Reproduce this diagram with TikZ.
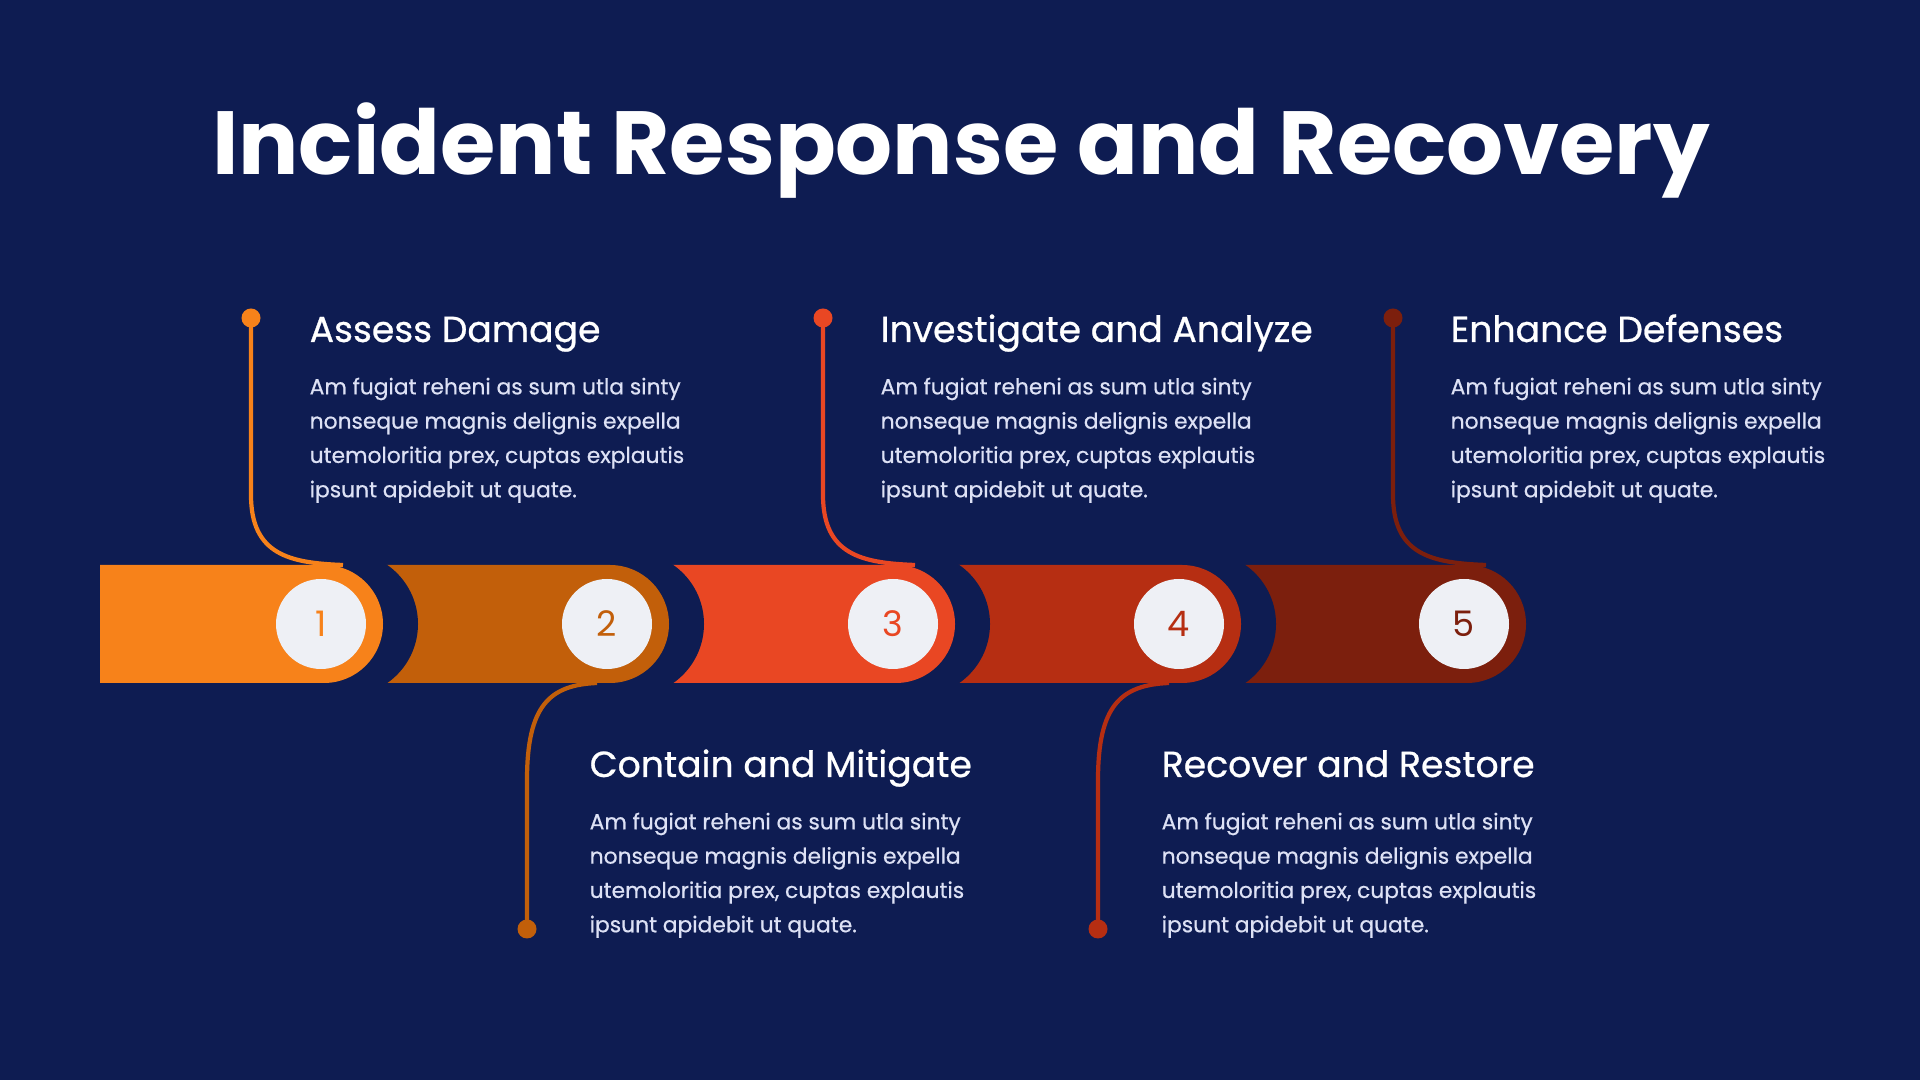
\documentclass[tikz,border=0pt]{standalone}
\usepackage{fontspec}
\setmainfont{Poppins}
\newfontfamily\headfont{Poppins}[FakeBold=0.7]
\newfontfamily\bodyfont{Poppins}[FakeBold=0.6]
\usetikzlibrary{positioning}

\definecolor{navy}{HTML}{0E1C52}
\definecolor{stepA}{HTML}{F7821A}
\definecolor{stepB}{HTML}{C25F0A}
\definecolor{stepC}{HTML}{E94723}
\definecolor{stepD}{HTML}{B62E12}
\definecolor{stepE}{HTML}{7C1F0D}
\definecolor{discfill}{HTML}{EEF0F5}
\definecolor{bodytext}{HTML}{DDE1F5}

\begin{document}
\begin{tikzpicture}[
    numdisc/.style={
        circle,
        fill=discfill,
        minimum size=0.9cm,
        inner sep=0pt,
        text=#1,
        font=\fontsize{10}{12}\selectfont
    },
    heading/.style={anchor=base west, inner sep=0pt, text=white, font=\headfont\fontsize{10.3}{13}\selectfont},
    body/.style={align=left, inner sep=0pt, text=bodytext, font=\bodyfont\fontsize{6.2}{9.76}\selectfont},
    title/.style={anchor=base, inner sep=0pt, text=white, font=\fontsize{25.5}{31}\selectfont\bfseries},
    dot/.style={circle, fill=#1, inner sep=0pt, minimum size=0.19cm},
    link/.style={draw=#1, line width=1.2pt}
]

% Background
\fill[navy] (0,0) rectangle (19.2,10.8);

% Title
\node[title] (title) at (9.61,9.05) {Incident Response and Recovery};

% Band segments, right to left
\fill[stepE] (14.67,5.15) arc[start angle=90, end angle=-90, radius=0.59] -- (11.82,3.97) -- (11.82,5.15) -- cycle;
\fill[navy] (12.04,4.56) circle[radius=0.72];
\fill[stepD] (11.82,5.15) arc[start angle=90, end angle=-90, radius=0.59] -- (8.96,3.97) -- (8.96,5.15) -- cycle;
\fill[navy] (9.18,4.56) circle[radius=0.72];
\fill[stepC] (8.96,5.15) arc[start angle=90, end angle=-90, radius=0.59] -- (6.10,3.97) -- (6.10,5.15) -- cycle;
\fill[navy] (6.32,4.56) circle[radius=0.72];
\fill[stepB] (6.10,5.15) arc[start angle=90, end angle=-90, radius=0.59] -- (3.24,3.97) -- (3.24,5.15) -- cycle;
\fill[navy] (3.46,4.56) circle[radius=0.72];
\fill[stepA] (3.24,5.15) arc[start angle=90, end angle=-90, radius=0.59] -- (1.00,3.97) -- (1.00,5.15) -- cycle;

% Numbered discs
\node[numdisc=stepA] (n1) at (3.21,4.56) {1};
\node[numdisc=stepB] (n2) at (6.07,4.56) {2};
\node[numdisc=stepC] (n3) at (8.93,4.56) {3};
\node[numdisc=stepD] (n4) at (11.79,4.56) {4};
\node[numdisc=stepE] (n5) at (14.64,4.56) {5};

% Junctions on the band
\coordinate (j1) at (3.43,5.15);
\coordinate (j2) at (5.97,3.97);
\coordinate (j3) at (9.15,5.15);
\coordinate (j4) at (11.69,3.97);
\coordinate (j5) at (14.86,5.15);

% Dots
\node[dot=stepA] (d1) at (2.51,7.62) {};
\node[dot=stepB] (d2) at (5.27,1.51) {};
\node[dot=stepC] (d3) at (8.23,7.62) {};
\node[dot=stepD] (d4) at (10.98,1.51) {};
\node[dot=stepE] (d5) at (13.93,7.62) {};

% Links
\draw[link=stepA] (d1.center) -- (2.51,5.85) .. controls (2.51,5.25) and (2.9,5.17) .. (j1);
\draw[link=stepB] (d2.center) -- (5.27,3.0) .. controls (5.27,3.75) and (5.5,3.95) .. (j2);
\draw[link=stepC] (d3.center) -- (8.23,5.85) .. controls (8.23,5.25) and (8.62,5.17) .. (j3);
\draw[link=stepD] (d4.center) -- (10.98,3.0) .. controls (10.98,3.75) and (11.21,3.95) .. (j4);
\draw[link=stepE] (d5.center) -- (13.93,5.85) .. controls (13.93,5.25) and (14.32,5.17) .. (j5);

% Step texts
\node[heading] (h1) at (3.09,7.38) {Assess Damage};
\node[body, below right=0.35cm and 0cm of h1.base west] (b1) {Am fugiat reheni as sum utla sinty\\nonseque magnis delignis expella\\utemoloritia prex, cuptas explautis\\ipsunt apidebit ut quate.};

\node[heading] (h2) at (5.89,3.03) {Contain and Mitigate};
\node[body, below right=0.35cm and 0cm of h2.base west] (b2) {Am fugiat reheni as sum utla sinty\\nonseque magnis delignis expella\\utemoloritia prex, cuptas explautis\\ipsunt apidebit ut quate.};

\node[heading] (h3) at (8.80,7.38) {Investigate and Analyze};
\node[body, below right=0.35cm and 0cm of h3.base west] (b3) {Am fugiat reheni as sum utla sinty\\nonseque magnis delignis expella\\utemoloritia prex, cuptas explautis\\ipsunt apidebit ut quate.};

\node[heading] (h4) at (11.61,3.03) {Recover and Restore};
\node[body, below right=0.35cm and 0cm of h4.base west] (b4) {Am fugiat reheni as sum utla sinty\\nonseque magnis delignis expella\\utemoloritia prex, cuptas explautis\\ipsunt apidebit ut quate.};

\node[heading] (h5) at (14.50,7.38) {Enhance Defenses};
\node[body, below right=0.35cm and 0cm of h5.base west] (b5) {Am fugiat reheni as sum utla sinty\\nonseque magnis delignis expella\\utemoloritia prex, cuptas explautis\\ipsunt apidebit ut quate.};

\end{tikzpicture}
\end{document}
